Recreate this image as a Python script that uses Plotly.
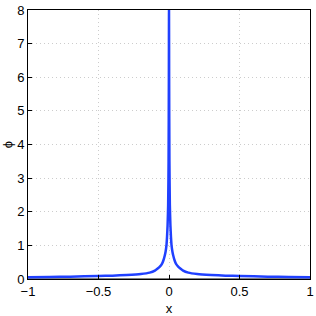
import plotly.graph_objects as go

# (right half; curve symmetric about x=0)
x_half = [0.0, 0.001, 0.003, 0.006, 0.01, 0.014, 0.018, 0.024, 0.03, 0.04, 0.05, 0.065,
          0.078, 0.1, 0.137, 0.2, 0.3, 0.4, 0.5, 0.7, 0.85, 1.0]
phi_half = [8.0, 6.0, 3.5, 2.2, 1.6, 1.25, 1.0, 0.82, 0.7, 0.55, 0.45, 0.37,
            0.32, 0.25, 0.19, 0.15, 0.12, 0.1, 0.09, 0.07, 0.06, 0.05]

x_vals = [-v for v in x_half[::-1]] + x_half[1:]
phi_vals = phi_half[::-1] + phi_half[1:]

x_ticks = [-1, -0.5, 0, 0.5, 1]
x_ticktext = ["\u22121", "\u22120.5", "0", "0.5", "1"]
y_ticks = [0, 1, 2, 3, 4, 5, 6, 7, 8]

fig = go.Figure()
fig.add_trace(go.Scatter(x=x_vals, y=phi_vals, mode="lines",
                         line=dict(color="#2040ff", width=2.5, shape="spline", smoothing=0.6),
                         showlegend=False))

font = dict(family="Liberation Sans, Arial, sans-serif", size=13, color="black")
fig.update_layout(
    width=316, height=316,
    margin=dict(l=28, r=6, t=10, b=37, autoexpand=False),
    paper_bgcolor="white", plot_bgcolor="white",
    font=font,
    xaxis=dict(range=[-1, 1], tickvals=x_ticks, ticktext=x_ticktext,
               showgrid=True, gridcolor="#cccccc", griddash="1px,3px", gridwidth=1,
               zeroline=False, showline=True, linecolor="black", linewidth=1, mirror=True,
               ticks="inside", ticklen=4, tickcolor="black", automargin=False,
               title=dict(text="x", standoff=6, font=font)),
    yaxis=dict(range=[0, 8], tickvals=y_ticks,
               showgrid=True, gridcolor="#cccccc", griddash="1px,3px", gridwidth=1,
               zeroline=False, showline=True, linecolor="black", linewidth=1, mirror=True,
               ticks="inside", ticklen=4, tickcolor="black", automargin=False,
               title=dict(text="\u03d5", standoff=4, font=font)),
)
fig.add_shape(type="line", xref="x", yref="y", x0=-1, x1=1, y0=0, y1=0,
              line=dict(color="#808080", width=2), layer="below")
fig.write_html("out.html", config={"displayModeBar": False},
               post_script="document.body.style.margin='0';document.body.style.overflow='hidden';")
